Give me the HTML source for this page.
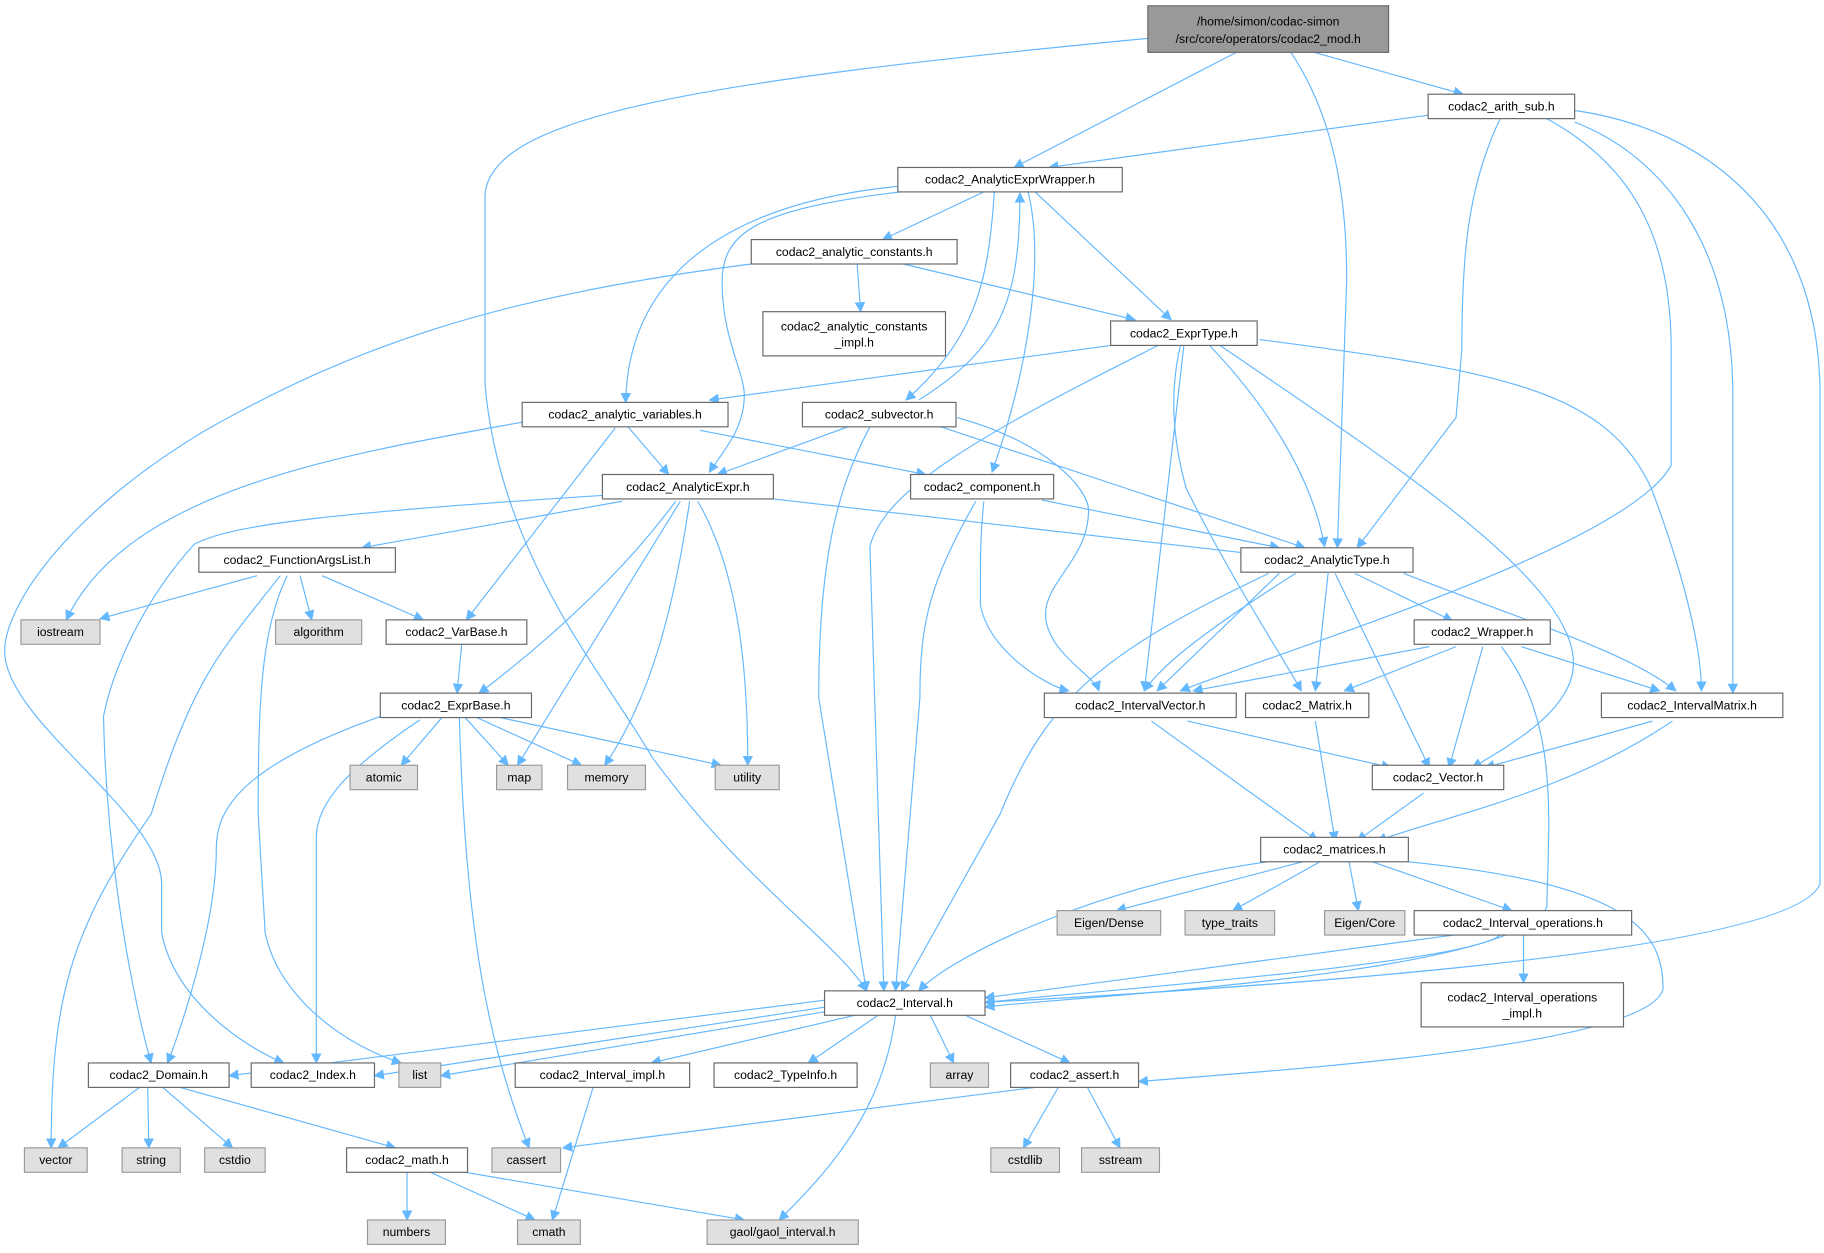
<!DOCTYPE html>
<html><head><meta charset="utf-8"><style>
html,body{margin:0;padding:0;background:#fff}
svg{display:block}
text{font-family:"Liberation Sans","DejaVu Sans",sans-serif;font-size:10.5px;fill:#000}
.e{fill:none;stroke:#63b8ff;stroke-width:1}
.n{fill:#fff;stroke:#666;stroke-width:1}
.g{fill:#e0e0e0;stroke:#999;stroke-width:1}
</style></head><body>
<svg width="1824" height="1253" viewBox="0 0 1568.4 1077.4" xmlns="http://www.w3.org/2000/svg">
<defs><marker id="a" viewBox="0 0 10 10" refX="9" refY="5" markerWidth="9" markerHeight="9" orient="auto" markerUnits="userSpaceOnUse"><path d="M0,0 L10,5 L0,10 z" fill="#63b8ff"/></marker></defs>
<g marker-end="url(#a)">
<path class="e" d="M987,33 C600,70 417,100 417,170 L417,330 C430,480 520,580 560,650 C640,760 720,810 745,852"/>
<path class="e" d="M1063,45 L872,144"/>
<path class="e" d="M1110,45 C1140,90 1158,150 1158,240 L1150,471"/>
<path class="e" d="M1130,45 L1258,81"/>
<path class="e" d="M1228,99 L902,144"/>
<path class="e" d="M1290,102 C1262,160 1257,220 1257,300 L1252,359 L1167,471"/>
<path class="e" d="M1330,102 C1400,140 1437,200 1437,300 L1437,400 C1400,470 1100,560 1015,594"/>
<path class="e" d="M1354,105 C1420,130 1490,200 1490,340 L1490,596"/>
<path class="e" d="M1354,95 C1460,110 1565,180 1565,340 L1565,760 C1540,830 900,858 847,862"/>
<path class="e" d="M846,165 L759,206"/>
<path class="e" d="M774,160 C620,175 540,240 538,346"/>
<path class="e" d="M774,165 C650,180 620,200 621,244 C621,290 640,320 640,340 C640,370 620,390 610,406"/>
<path class="e" d="M855,165 C850,240 840,290 779,344"/>
<path class="e" d="M790,344 C860,300 877,260 877,166"/>
<path class="e" d="M884,165 C900,230 880,330 853,406"/>
<path class="e" d="M890,165 L1007,275"/>
<path class="e" d="M737,227 L740,268"/>
<path class="e" d="M777,227 L976,275"/>
<path class="e" d="M646,227 C420,256 300,300 175,371 C60,440 4,520 4,560 C4,620 139,700 139,760 L139,802 C150,860 210,900 244,914"/>
<path class="e" d="M955,297 L610,344"/>
<path class="e" d="M996,297 C850,370 760,420 748,470 L760,852"/>
<path class="e" d="M1040,297 C1100,360 1130,420 1139,470"/>
<path class="e" d="M1018,297 L984,594"/>
<path class="e" d="M1015,297 C1005,340 1009,380 1020,420 C1060,500 1100,560 1119,594"/>
<path class="e" d="M1049,297 C1200,400 1353,500 1353,570 C1353,610 1300,640 1266,660"/>
<path class="e" d="M1083,292 C1300,320 1382,338 1420,420 C1450,500 1463,560 1463,594"/>
<path class="e" d="M449,363 C300,390 110,420 57,533"/>
<path class="e" d="M540,367 L575,408"/>
<path class="e" d="M529,368 L401,533"/>
<path class="e" d="M602,370 L796,408"/>
<path class="e" d="M729,367 L617,408"/>
<path class="e" d="M748,367 C720,420 704,480 704,600 L745,852"/>
<path class="e" d="M823,359 C900,380 936,420 936,439 C936,480 899,500 899,528 C899,560 940,580 945,594"/>
<path class="e" d="M809,367 L1122,471"/>
<path class="e" d="M535,431 L311,471"/>
<path class="e" d="M665,429 L1075,476"/>
<path class="e" d="M518,426 C300,440 200,450 167,468 C120,520 96,580 89,616 C92,760 120,880 130,914"/>
<path class="e" d="M581,431 C530,500 460,560 412,596"/>
<path class="e" d="M585,431 L445,658"/>
<path class="e" d="M593,431 C580,520 560,600 520,658"/>
<path class="e" d="M600,431 C640,500 643,600 643,658"/>
<path class="e" d="M896,430 L1100,471"/>
<path class="e" d="M839,431 C800,500 791,534 791,600 L770,852"/>
<path class="e" d="M846,431 C843,460 843,473 843,520 C850,560 900,590 919,594"/>
<path class="e" d="M221,495 L86,532"/>
<path class="e" d="M258,495 L268,533"/>
<path class="e" d="M277,495 L364,533"/>
<path class="e" d="M241,495 C190,560 167,580 130,700 C60,800 44,860 44,987"/>
<path class="e" d="M247,495 C225,540 222,600 222,700 L228,802 C240,860 300,900 345,914"/>
<path class="e" d="M397,554 L393,596"/>
<path class="e" d="M333,614 C200,660 186,700 186,730 C186,800 150,900 144,914"/>
<path class="e" d="M361,619 C300,660 272,690 272,720 L272,914"/>
<path class="e" d="M380,617 L345,658"/>
<path class="e" d="M400,617 L437,658"/>
<path class="e" d="M410,617 L500,658"/>
<path class="e" d="M430,617 L620,658"/>
<path class="e" d="M395,617 C400,800 420,900 455,987"/>
<path class="e" d="M1091,493 C950,560 900,600 860,700 L775,852"/>
<path class="e" d="M1114,493 C1040,540 1000,570 984,594"/>
<path class="e" d="M1100,493 L995,594"/>
<path class="e" d="M1142,493 L1131,594"/>
<path class="e" d="M1148,493 L1229,660"/>
<path class="e" d="M1165,493 L1249,534"/>
<path class="e" d="M1207,493 C1300,530 1400,560 1441,594"/>
<path class="e" d="M1229,556 L1026,594"/>
<path class="e" d="M1252,556 L1156,594"/>
<path class="e" d="M1275,556 L1246,660"/>
<path class="e" d="M1308,556 L1427,594"/>
<path class="e" d="M1291,556 C1340,620 1332,700 1330,780 C1300,840 900,858 847,866"/>
<path class="e" d="M1021,620 L1196,660"/>
<path class="e" d="M990,620 L1133,723"/>
<path class="e" d="M1131,620 L1148,723"/>
<path class="e" d="M1421,620 L1277,660"/>
<path class="e" d="M1438,620 C1350,680 1250,700 1184,723"/>
<path class="e" d="M1224,682 L1167,723"/>
<path class="e" d="M1090,741 C950,760 820,820 790,852"/>
<path class="e" d="M1120,741 L960,783"/>
<path class="e" d="M1135,741 L1060,783"/>
<path class="e" d="M1160,741 L1168,783"/>
<path class="e" d="M1180,741 L1300,783"/>
<path class="e" d="M1211,741 C1400,760 1430,800 1430,850 C1420,900 1100,920 979,930"/>
<path class="e" d="M1250,804 L847,858"/>
<path class="e" d="M1290,804 C1260,830 900,855 847,862"/>
<path class="e" d="M1310,804 L1310,845"/>
<path class="e" d="M709,860 L197,925"/>
<path class="e" d="M709,866 L322,925"/>
<path class="e" d="M709,870 L379,925"/>
<path class="e" d="M735,873 L560,914"/>
<path class="e" d="M755,873 L695,914"/>
<path class="e" d="M800,873 L820,914"/>
<path class="e" d="M830,873 L920,914"/>
<path class="e" d="M770,873 C760,950 720,1000 670,1049"/>
<path class="e" d="M510,935 L475,1049"/>
<path class="e" d="M890,935 L484,987"/>
<path class="e" d="M910,935 L880,987"/>
<path class="e" d="M935,935 L963,987"/>
<path class="e" d="M120,935 L50,987"/>
<path class="e" d="M127,935 L128,987"/>
<path class="e" d="M140,935 L200,987"/>
<path class="e" d="M155,935 L340,987"/>
<path class="e" d="M350,1008 L350,1049"/>
<path class="e" d="M370,1008 L460,1049"/>
<path class="e" d="M400,1008 L640,1049"/>
</g>
<g text-anchor="middle">
<rect x="987" y="5" width="207" height="40" fill="#999" stroke="#666"/><text x="1090.5" y="22">/home/simon/codac-simon</text><text x="1090.5" y="37">/src/core/operators/codac2_mod.h</text>
<rect class="n" x="1228" y="81" width="126" height="21"/><text x="1291" y="95">codac2_arith_sub.h</text>
<rect class="n" x="772" y="144" width="193" height="21"/><text x="868.5" y="158">codac2_AnalyticExprWrapper.h</text>
<rect class="n" x="646" y="206" width="177" height="21"/><text x="734.5" y="220">codac2_analytic_constants.h</text>
<rect class="n" x="656" y="268" width="157" height="38"/><text x="734.5" y="284">codac2_analytic_constants</text><text x="734.5" y="298">_impl.h</text>
<rect class="n" x="955" y="276" width="126" height="21"/><text x="1018" y="290">codac2_ExprType.h</text>
<rect class="n" x="449" y="346" width="177" height="21"/><text x="537.5" y="360">codac2_analytic_variables.h</text>
<rect class="n" x="690" y="346" width="132" height="21"/><text x="756" y="360">codac2_subvector.h</text>
<rect class="n" x="518" y="408" width="147" height="21"/><text x="591.5" y="422">codac2_AnalyticExpr.h</text>
<rect class="n" x="783" y="408" width="123" height="21"/><text x="844.5" y="422">codac2_component.h</text>
<rect class="n" x="171" y="471" width="169" height="21"/><text x="255.5" y="485">codac2_FunctionArgsList.h</text>
<rect class="n" x="1067" y="471" width="148" height="21"/><text x="1141" y="485">codac2_AnalyticType.h</text>
<rect class="g" x="18" y="533" width="68" height="21"/><text x="52" y="547">iostream</text>
<rect class="g" x="237" y="533" width="74" height="21"/><text x="274" y="547">algorithm</text>
<rect class="n" x="332" y="533" width="121" height="21"/><text x="392.5" y="547">codac2_VarBase.h</text>
<rect class="n" x="1216" y="533" width="117" height="21"/><text x="1274.5" y="547">codac2_Wrapper.h</text>
<rect class="n" x="327" y="596" width="130" height="21"/><text x="392" y="610">codac2_ExprBase.h</text>
<rect class="n" x="898" y="596" width="165" height="21"/><text x="980.5" y="610">codac2_IntervalVector.h</text>
<rect class="n" x="1071" y="596" width="106" height="21"/><text x="1124" y="610">codac2_Matrix.h</text>
<rect class="n" x="1377" y="596" width="156" height="21"/><text x="1455" y="610">codac2_IntervalMatrix.h</text>
<rect class="g" x="301" y="658" width="58" height="21"/><text x="330" y="672">atomic</text>
<rect class="g" x="427" y="658" width="39" height="21"/><text x="446.5" y="672">map</text>
<rect class="g" x="488" y="658" width="67" height="21"/><text x="521.5" y="672">memory</text>
<rect class="g" x="615" y="658" width="55" height="21"/><text x="642.5" y="672">utility</text>
<rect class="n" x="1180" y="658" width="113" height="21"/><text x="1236.5" y="672">codac2_Vector.h</text>
<rect class="n" x="1084" y="720" width="127" height="21"/><text x="1147.5" y="734">codac2_matrices.h</text>
<rect class="g" x="909" y="783" width="89" height="21"/><text x="953.5" y="797">Eigen/Dense</text>
<rect class="g" x="1019" y="783" width="77" height="21"/><text x="1057.5" y="797">type_traits</text>
<rect class="g" x="1139" y="783" width="69" height="21"/><text x="1173.5" y="797">Eigen/Core</text>
<rect class="n" x="1216" y="783" width="187" height="21"/><text x="1309.5" y="797">codac2_Interval_operations.h</text>
<rect class="n" x="1222" y="845" width="174" height="38"/><text x="1309" y="861">codac2_Interval_operations</text><text x="1309" y="875">_impl.h</text>
<rect class="n" x="709" y="852" width="138" height="21"/><text x="778" y="866">codac2_Interval.h</text>
<rect class="n" x="76" y="914" width="121" height="21"/><text x="136.5" y="928">codac2_Domain.h</text>
<rect class="n" x="216" y="914" width="106" height="21"/><text x="269" y="928">codac2_Index.h</text>
<rect class="g" x="343" y="914" width="36" height="21"/><text x="361" y="928">list</text>
<rect class="n" x="443" y="914" width="150" height="21"/><text x="518" y="928">codac2_Interval_impl.h</text>
<rect class="n" x="614" y="914" width="123" height="21"/><text x="675.5" y="928">codac2_TypeInfo.h</text>
<rect class="g" x="800" y="914" width="50" height="21"/><text x="825" y="928">array</text>
<rect class="n" x="869" y="914" width="110" height="21"/><text x="924" y="928">codac2_assert.h</text>
<rect class="g" x="21" y="987" width="54" height="21"/><text x="48" y="1001">vector</text>
<rect class="g" x="105" y="987" width="50" height="21"/><text x="130" y="1001">string</text>
<rect class="g" x="176" y="987" width="52" height="21"/><text x="202" y="1001">cstdio</text>
<rect class="n" x="298" y="987" width="104" height="21"/><text x="350" y="1001">codac2_math.h</text>
<rect class="g" x="423" y="987" width="59" height="21"/><text x="452.5" y="1001">cassert</text>
<rect class="g" x="852" y="987" width="59" height="21"/><text x="881.5" y="1001">cstdlib</text>
<rect class="g" x="930" y="987" width="67" height="21"/><text x="963.5" y="1001">sstream</text>
<rect class="g" x="316" y="1049" width="67" height="21"/><text x="349.5" y="1063">numbers</text>
<rect class="g" x="445" y="1049" width="54" height="21"/><text x="472" y="1063">cmath</text>
<rect class="g" x="608" y="1049" width="130" height="21"/><text x="673" y="1063">gaol/gaol_interval.h</text>
</g>
</svg>
</body></html>
